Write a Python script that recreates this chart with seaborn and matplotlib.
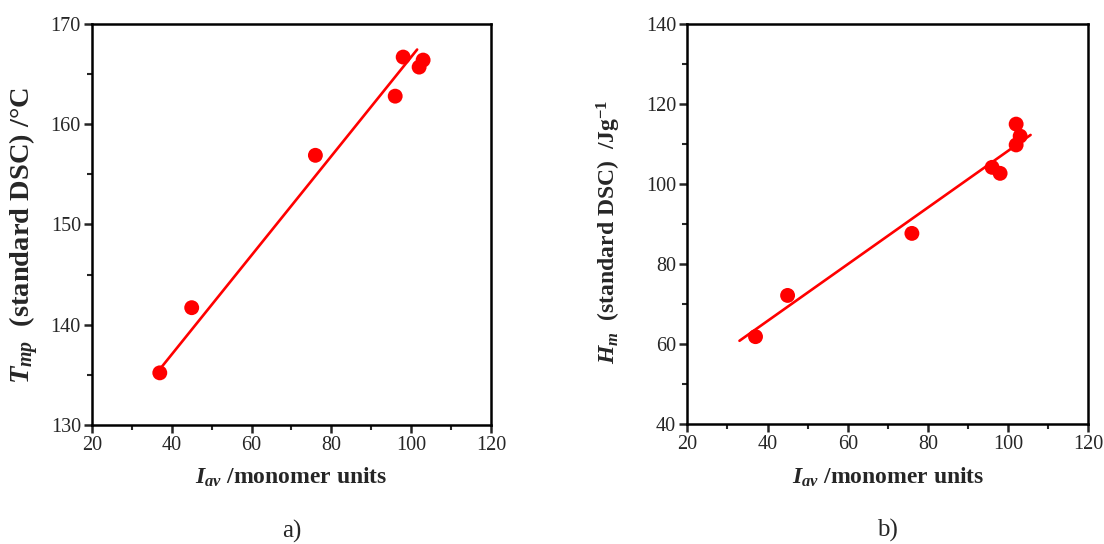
import numpy as np
import pandas as pd
import matplotlib
matplotlib.use("Agg")
import matplotlib.pyplot as plt
import seaborn as sns
from matplotlib.ticker import AutoMinorLocator

# ---- data ----
iav_a = [37, 45, 76, 96, 98, 102, 103]
tmp_a = [135.2, 141.7, 156.9, 162.8, 166.7, 165.7, 166.4]
iav_b = [37, 45, 76, 96, 98, 102, 103, 102]
hm_b = [61.9, 72.2, 87.7, 104.2, 102.7, 115.0, 112.0, 109.8]
# linear fit lines as drawn in the figure: (slope, intercept) and x extent
fit_a = [0.4945, 117.26]
fit_b = [0.7084, 37.49]
fit_range_a = [37.5, 101.5]
fit_range_b = [33.0, 105.6]
xticks = [20, 40, 60, 80, 100, 120]
yticks_a = [130, 140, 150, 160, 170]
yticks_b = [40, 60, 80, 100, 120, 140]

sns.set_theme(style="white")
plt.rcParams['font.family'] = ['Liberation Serif', 'DejaVu Serif']
plt.rcParams['mathtext.fontset'] = 'custom'
plt.rcParams['mathtext.rm'] = 'Liberation Serif:bold'
plt.rcParams['mathtext.it'] = 'Liberation Serif:bold:italic'
plt.rcParams['mathtext.bf'] = 'Liberation Serif:bold'

fig = plt.figure(figsize=(11.04, 5.44), dpi=100)
ax1 = fig.add_axes([0.0833, 0.2188, 0.3614, 0.7371])
ax2 = fig.add_axes([0.6226, 0.2200, 0.3632, 0.7358])

RED = '#ff0000'

def panel(ax, x, y, fit, frange, yticks, ylabel, yfs, lx, ly, letter):
    df = pd.DataFrame({'x': x, 'y': y})
    sns.scatterplot(data=df, x='x', y='y', ax=ax, color=RED, s=115,
                    edgecolor='none', zorder=3)
    fx = np.array(frange)
    fd = pd.DataFrame({'x': fx, 'y': fit[0] * fx + fit[1]})
    sns.lineplot(data=fd, x='x', y='y', ax=ax, color=RED, lw=1.9, zorder=2)
    ax.set_xlim(xticks[0], xticks[-1])
    ax.set_ylim(yticks[0], yticks[-1])
    ax.set_xticks(xticks)
    ax.set_yticks(yticks)
    ax.xaxis.set_minor_locator(AutoMinorLocator(2))
    ax.yaxis.set_minor_locator(AutoMinorLocator(2))
    ax.tick_params(which='major', direction='out', length=6, width=1.8,
                   labelsize=14.5, bottom=True, left=True, top=False, right=False, pad=2)
    ax.tick_params(which='minor', direction='out', length=3.5, width=1.5,
                   bottom=True, left=True, top=False, right=False)
    for sp in ax.spines.values():
        sp.set_visible(True)
        sp.set_linewidth(1.8)
        sp.set_color('black')
    ax.set_xlabel(r'$I_{av}$ /monomer units', fontsize=17, fontweight='bold', labelpad=8)
    ax.set_ylabel(ylabel, fontsize=yfs, fontweight='bold')
    ax.yaxis.set_label_coords(lx, ly)
    ax.text(0.5, -0.265, letter, transform=ax.transAxes, ha='center', va='center',
            fontsize=18)

panel(ax1, iav_a, tmp_a, fit_a, fit_range_a, yticks_a,
      r'$T_{mp}$  (standard DSC) /°C', 20.5, -0.128, 0.472, 'a)')
panel(ax2, iav_b, hm_b, fit_b, fit_range_b, yticks_b,
      r'$H_{m}$  (standard DSC)  /Jg$^{\mathrm{-1}}$', 17, -0.16, 0.48, 'b)')

fig.savefig('out.png', dpi=100)
